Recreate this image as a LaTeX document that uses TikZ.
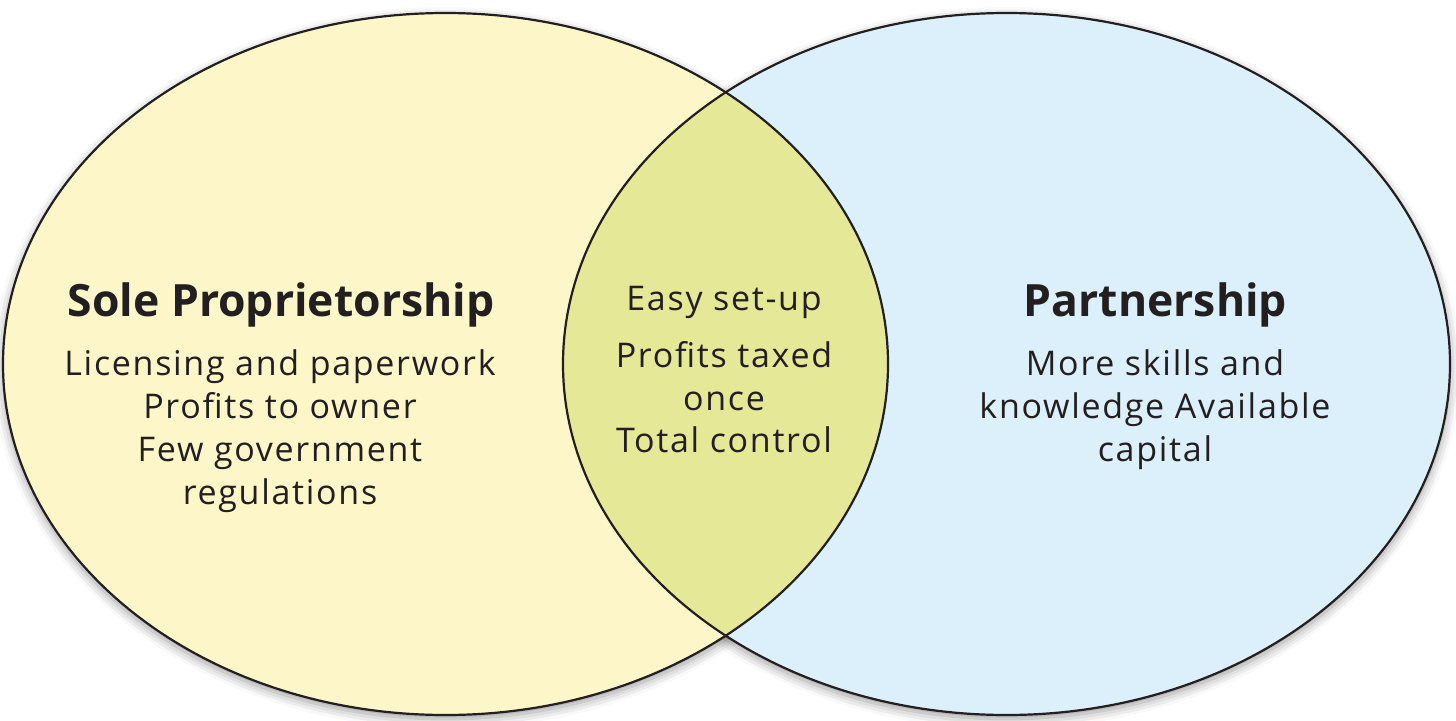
\documentclass[tikz,border=0pt]{standalone}
\usepackage{fontspec}
\setmainfont{Open Sans}
\newfontfamily\bodyfont{Open Sans}[LetterSpace=5]
\usetikzlibrary{shadows.blur}
\definecolor{soleyellow}{RGB}{253,246,201}
\definecolor{partblue}{RGB}{220,240,252}
\definecolor{lensgreen}{RGB}{229,233,151}
\definecolor{ink}{RGB}{35,31,32}
\begin{document}
\begin{tikzpicture}[x=1pt,y=-1pt,
  outline/.style={line width=2.2pt, draw=ink},
  softshadow/.style={blur shadow={shadow xshift=0pt, shadow yshift=-4pt, shadow blur radius=10pt, shadow opacity=40}},
  head/.style={font=\bfseries\fontsize{44.5}{50}\selectfont, text=ink, anchor=base, inner sep=0pt},
  body/.style={font=\bodyfont\fontsize{34}{43}\selectfont, text=ink, anchor=base, inner sep=0pt}]
\useasboundingbox (0,0) rectangle (1456,720);
\coordinate (LC) at (445.5,364);
\coordinate (RC) at (1006.5,364);
% shadows
\path[softshadow] (LC) ellipse [x radius=442.5pt, y radius=351pt];
\path[softshadow] (RC) ellipse [x radius=443.5pt, y radius=351pt];
% fills
\fill[soleyellow] (LC) ellipse [x radius=442.5pt, y radius=351pt];
\fill[partblue] (RC) ellipse [x radius=443.5pt, y radius=351pt];
\begin{scope}
  \clip (LC) ellipse [x radius=442.5pt, y radius=351pt];
  \fill[lensgreen] (RC) ellipse [x radius=443.5pt, y radius=351pt];
\end{scope}
% outlines
\draw[outline] (LC) ellipse [x radius=442.5pt, y radius=351pt];
\draw[outline] (RC) ellipse [x radius=443.5pt, y radius=351pt];
% left texts
\node[head] (solehead) at (281,316.7) {Sole Proprietorship};
\node[body] (sole1) at (280,375) {Licensing and paperwork};
\node[body] (sole2) at (280,418.3) {Profits to owner};
\node[body] (sole3) at (280,461.7) {Few government};
\node[body] (sole4) at (280,504.5) {regulations};
% centre texts
\node[body] (mid1) at (724,310.7) {Easy set-up};
\node[body] (mid2) at (724,367.3) {Profits taxed};
\node[body] (mid3) at (724,410) {once};
\node[body] (mid4) at (724,452.7) {Total control};
% right texts
\node[head] (parthead) at (1155.5,316.7) {Partnership};
\node[body] (part1) at (1155,375) {More skills and};
\node[body] (part2) at (1155,418.3) {knowledge Available};
\node[body] (part3) at (1155,461.7) {capital};
\end{tikzpicture}
\end{document}
